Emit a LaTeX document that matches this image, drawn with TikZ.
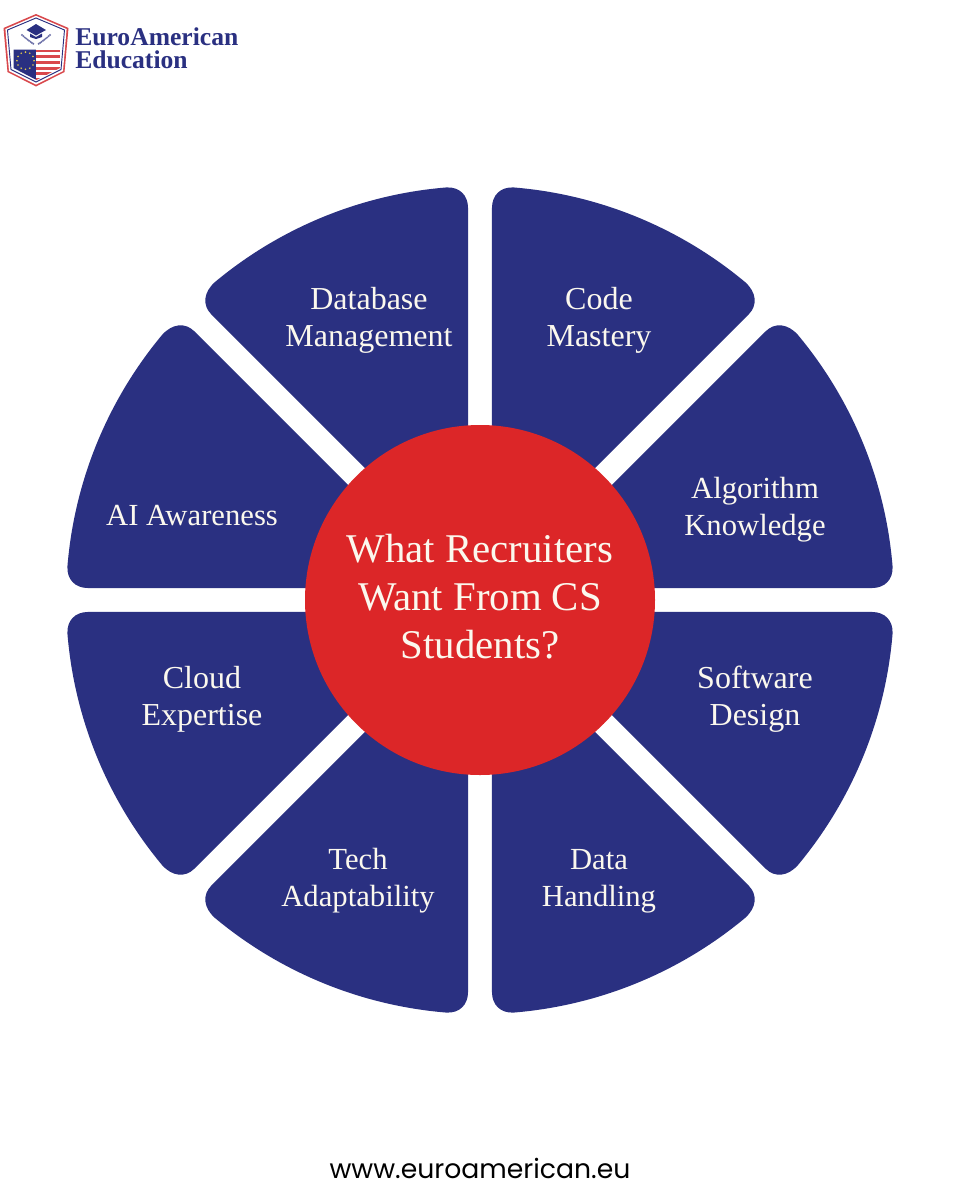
\documentclass[tikz,border=0pt]{standalone}
\usepackage{fontspec}
\setmainfont{Liberation Serif}
\newfontfamily\webfont{Poppins}
\definecolor{navy}{HTML}{2A3081}
\definecolor{redc}{HTML}{DC2628}
\definecolor{cream}{HTML}{FBF8EE}
\definecolor{logored}{HTML}{D9484C}
\definecolor{stary}{HTML}{E3C84A}
\tikzset{
  lbl/.style={text=cream,align=center,inner sep=0pt,font=\fontsize{24}{27.6}\selectfont},
  lblsm/.style={text=cream,align=center,inner sep=0pt,font=\fontsize{23}{27.6}\selectfont},
  ttl/.style={text=cream,align=center,inner sep=0pt,font=\fontsize{30.6}{36.2}\selectfont},
  wedge/.style={fill=navy,draw=none},
  brand/.style={text=navy,align=left,anchor=west,inner sep=0pt,font=\bfseries\fontsize{19.2}{17}\selectfont},
}
\begin{document}
\begin{tikzpicture}[x=0.75pt,y=-0.75pt]
\useasboundingbox[fill=white] (0,0) rectangle (960,1200);
% eight wedges
\foreach \ang in {0,90,180,270}{
 \foreach \m in {1,-1}{
  \begin{scope}[shift={(480,600)},rotate=\ang,yscale=\m,scale=0.9975]
   \fill[wedge] (29,12) -- (393,12)
     .. controls (406,12) and (414.3,20.7) .. (4.66:415)
     .. controls (16.31:423.7) and (28.15:423.7) .. (39.8:415)
     .. controls (308.6,277.2) and (295.6,278.6) .. (286.3,269.3) -- cycle;
  \end{scope}
 }
}
\node[circle,fill=redc,minimum size=262.5pt,inner sep=0pt] (hub) at (480,600) {};
\node[ttl] (title) at (480,596.5) {What Recruiters\\Want From CS\\Students?};
\node[lbl] (db) at (369,320) {Database\\Management};
\node[lbl] (code) at (599,320) {Code\\Mastery};
\node[lblsm] (algo) at (755,510) {Algorithm\\Knowledge};
\node[lblsm] (ai) at (192,516) {AI Awareness};
\node[lbl] (cloud) at (202,699) {Cloud\\Expertise};
\node[lbl] (soft) at (755,699) {Software\\Design};
\node[lblsm] (tech) at (358,881) {Tech\\Adaptability};
\node[lblsm] (data) at (599,881) {Data\\Handling};
\node[text=black,inner sep=0pt,font=\webfont\fontsize{20}{24}\selectfont] (web) at (480,1168) {www.euroamerican.eu};
% logo shield
\fill[logored] (36,14) -- (68.5,28) -- (64.5,72) -- (36,86.5) -- (7.5,72) -- (3.5,28) -- cycle;
\fill[white] (36,15.8) -- (66.6,29) -- (63,71) -- (36,84.5) -- (9,71) -- (5.4,29) -- cycle;
\draw[navy,line width=0.7pt,fill=white] (36,18) -- (64.5,30) -- (61,69.5) -- (36,82) -- (11,69.5) -- (7.5,30) -- cycle;
\begin{scope}
 \clip (13.5,49.5) -- (60,49.5) -- (60,68) -- (36.5,80) -- (13.5,68) -- cycle;
 \fill[white] (36,49) rectangle (61,81);
 \fill[navy] (13,49) rectangle (36,81);
 \foreach \yy in {49.5,55.2,60.9,66.6,72.3,78}{\fill[logored] (36,\yy) rectangle (61,\yy+2.9);}
 \foreach \k in {0,30,...,330}{\fill[stary] (25.5,60.7)++(\k:8.6) circle (0.9);}
\end{scope}
% cap
\fill[navy] (26.5,30) -- (36,24) -- (46,30) -- (36,35.5) -- cycle;
\fill[navy] (30,33.5) -- (36,37) -- (42,33.5) -- (42,37) -- (36,39) -- (30,37) -- cycle;
\foreach \k in {0,...,8}{
 \fill[navy!70] (22+\k*1.4,35+\k*1.25-\k*\k*0.02) circle (1.1);
 \fill[navy!70] (50-\k*1.4,35+\k*1.25-\k*\k*0.02) circle (1.1);
}
\node[brand] (brandname) at (75,48.5) {EuroAmerican\\Education};
\end{tikzpicture}
\end{document}
